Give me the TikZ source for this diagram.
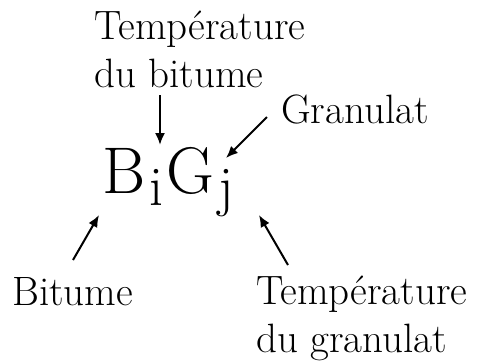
\documentclass[tikz,border=0pt]{standalone}
\usepackage{tikz}
\usetikzlibrary{arrows.meta}

\newcommand{\subidx}[1]{\lower12pt\hbox{\fontsize{56}{56}\selectfont #1}}

\begin{document}
\begin{tikzpicture}[
    x=1pt,y=-1pt,
    lbl/.style={inner sep=0pt, anchor=base west, align=left, font=\fontsize{41}{48}\selectfont},
    big/.style={inner sep=0pt, anchor=base west, font=\fontsize{66}{70}\selectfont},
    edge/.style={-{Latex[length=12pt,width=10pt]}, draw=black, line width=2pt}
  ]
    \useasboundingbox (0,0) rectangle (480,362);
    \node[big] (bg) at (102,193) {B\kern4pt\subidx{i}\kern3pt G\kern4pt\subidx{j}};

    % multi-line labels: base is the last line
    \node[lbl] (tb) at (94,87) {Température\\du bitume};
    \node[lbl] (gr) at (281,123) {Granulat};
    \node[lbl] (bt) at (12,305) {Bitume};
    \node[lbl] (tg) at (256,352) {Température\\du granulat};

    \coordinate (tbs) at (160,95);   \coordinate (tbe) at (160,145);
    \coordinate (grs) at (267,117);  \coordinate (gre) at (226,158);
    \coordinate (bts) at (73,260);   \coordinate (bte) at (99,215);
    \coordinate (tgs) at (288,265);  \coordinate (tge) at (259,215);
    \draw[edge] (tbs) -- (tbe);
    \draw[edge] (grs) -- (gre);
    \draw[edge] (bts) -- (bte);
    \draw[edge] (tgs) -- (tge);
  \end{tikzpicture}
\end{document}
